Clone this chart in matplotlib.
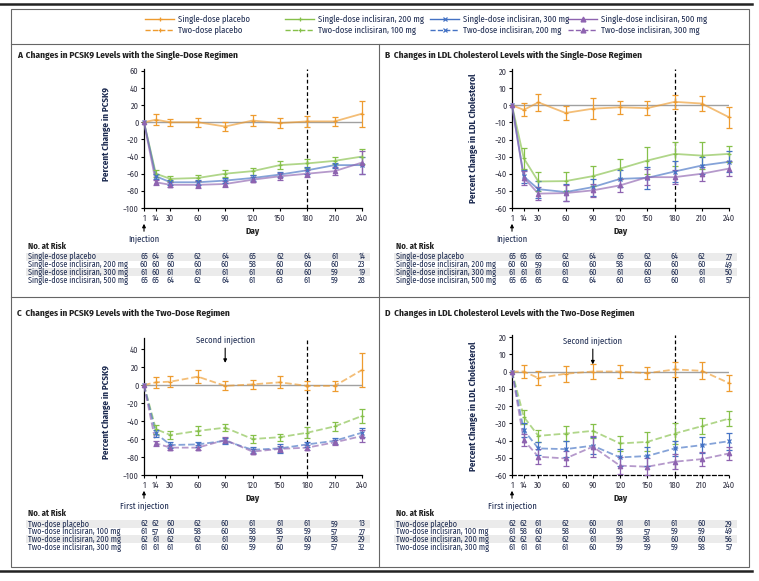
import numpy as np
import matplotlib
matplotlib.use("Agg")
import matplotlib.pyplot as plt
from matplotlib.lines import Line2D
from matplotlib.patches import Rectangle
from matplotlib.transforms import blended_transform_factory

plt.rcParams['font.family'] = ['Fira Sans Condensed', 'DejaVu Sans']

W, H = 759, 581
NAVY = "#1c2a50"
TXT = "#222222"

days = [1, 14, 30, 60, 90, 120, 150, 180, 210, 240]

# A: PCSK9, single dose
a_pbo = [0, 3, 0, 0, -5, 2, -1, 1, 1, 10]
a_pbo_err = [0, 6.5, 4, 5, 5, 6, 6, 6, 5.5, 15]
a_200 = [0, -60, -66, -65, -60, -57, -50, -48, -45, -40]
a_200_err = [0, 4, 3, 3, 4, 4, 5, 5, 4, 9]
a_300 = [0, -63, -70, -70, -68, -65, -61, -56, -50, -50]
a_300_err = [0, 3, 3, 3, 3, 3, 3, 4, 3, 10]
a_500 = [0, -70, -73, -73, -72, -67, -63, -60, -57, -47]
a_500_err = [0, 3, 3, 4, 3, 3, 4, 4, 5, 13]

# B: LDL, single dose
b_pbo = [0, -2.7, 1.7, -4.5, -2, -1.2, -1.7, 2, 1, -7]
b_pbo_err = [0, 3.8, 4.8, 4.3, 6.3, 3.9, 4.2, 4, 4.5, 6]
b_200 = [0, -31, -44.5, -44.3, -41.4, -37, -32.3, -28.4, -29.4, -28.4]
b_200_err = [0, 6, 5.3, 5.6, 5.8, 5.8, 7.7, 7, 8, 4.7]
b_300 = [0, -41.6, -49, -50.7, -47.8, -43, -42.4, -38.7, -35.2, -33]
b_300_err = [0, 4, 5, 5, 5, 5, 6.5, 6, 5, 6]
b_500 = [0, -42.4, -51.6, -51.3, -49.7, -46.8, -42, -42, -40, -37]
b_500_err = [0, 4, 4, 4.5, 4, 4, 4.5, 4, 4, 4.5]

# C: PCSK9, two dose
c_pbo = [0, 3, 3.7, 9.3, -1, 0.7, 3, -1, -1, 16.7]
c_pbo_err = [0, 6, 6, 7, 5, 5, 6.5, 5, 5.5, 18.5]
c_100 = [0, -49, -55.6, -51, -47.4, -60, -58, -53, -46, -34.4]
c_100_err = [0, 5, 4, 5, 4, 4, 4, 6, 5, 8]
c_200 = [0, -53.7, -66.7, -66, -62, -72, -70.4, -66, -62, -53]
c_200_err = [0, 4, 3, 3, 3, 3, 5, 3, 3, 5]
c_300 = [0, -64.8, -69.6, -69.6, -61, -74, -71, -69.6, -63.7, -56.7]
c_300_err = [0, 3, 3, 3, 3, 3, 3, 3, 3, 7]

# D: LDL, two dose
d_pbo = [0, 0, -3.8, -1.3, 0, 0, -1, 1.2, 0.4, -6.7]
d_pbo_err = [0, 3.5, 4, 4.5, 4.5, 4, 3.5, 4.5, 5, 4.5]
d_100 = [0, -26.3, -37.3, -36, -34.4, -41.7, -40.8, -36, -31.7, -27.3]
d_100_err = [0, 4, 3.5, 4.5, 4, 4.5, 5.5, 6, 4.5, 4.5]
d_200 = [0, -34, -44.6, -45, -43, -49.8, -49, -44.6, -42.7, -40.4]
d_200_err = [0, 4, 4, 4.5, 5, 5, 5.5, 4.5, 4.5, 5]
d_300 = [0, -39.8, -49.4, -50.4, -43.6, -54.6, -55.2, -52.3, -50.8, -47.5]
d_300_err = [0, 3.5, 4.5, 4.5, 6, 5, 5, 4.5, 4, 4]

single_labels = ["Single-dose placebo", "Single-dose inclisiran, 200 mg",
                 "Single-dose inclisiran, 300 mg", "Single-dose inclisiran, 500 mg"]
two_labels = ["Two-dose placebo", "Two-dose inclisiran, 100 mg",
              "Two-dose inclisiran, 200 mg", "Two-dose inclisiran, 300 mg"]

risk_a = [[65, 64, 65, 62, 64, 65, 62, 64, 61, 14],
          [60, 60, 60, 60, 60, 58, 60, 60, 60, 23],
          [61, 60, 61, 61, 61, 61, 60, 60, 59, 19],
          [65, 65, 64, 62, 64, 61, 63, 61, 59, 28]]
risk_b = [[65, 65, 65, 62, 64, 65, 62, 64, 62, 27],
          [60, 60, 59, 60, 60, 58, 60, 60, 60, 49],
          [61, 61, 61, 61, 60, 61, 60, 60, 61, 50],
          [65, 65, 65, 62, 64, 60, 63, 60, 61, 57]]
risk_c = [[62, 62, 60, 62, 60, 61, 61, 61, 59, 13],
          [61, 57, 60, 58, 60, 58, 58, 59, 57, 27],
          [62, 61, 62, 62, 61, 59, 57, 60, 58, 29],
          [61, 61, 61, 61, 60, 59, 60, 59, 57, 32]]
risk_d = [[62, 62, 61, 62, 60, 61, 61, 61, 60, 29],
          [61, 58, 60, 58, 60, 58, 57, 59, 59, 49],
          [62, 62, 62, 62, 61, 59, 58, 60, 60, 56],
          [61, 61, 61, 61, 60, 59, 59, 59, 58, 57]]

colors = ["#EE9B2F", "#86C04A", "#4472C4", "#8E63B0"]
markers = ["+", "+", "x", "^"]


def fx(px):
    return px / W


def fy(py):
    return 1 - py / H


fig = plt.figure(figsize=(W / 100, H / 100), dpi=100)

# frame
fig.add_artist(Line2D([fx(0), fx(752)], [fy(4), fy(4)], lw=1.8, color="#222222"))
fig.add_artist(Line2D([fx(0), fx(752)], [fy(571), fy(571)], lw=1.8, color="#222222"))
fig.add_artist(Rectangle((fx(11), fy(567)), fx(749) - fx(11), fy(9) - fy(567),
                         transform=fig.transFigure, fill=False, ec="#666666", lw=0.8))
fig.add_artist(Line2D([fx(11), fx(749)], [fy(44), fy(44)], lw=0.8, color="#666666"))
fig.add_artist(Line2D([fx(11), fx(749)], [fy(297), fy(297)], lw=0.8, color="#666666"))
fig.add_artist(Line2D([fx(379), fx(379)], [fy(44), fy(567)], lw=0.8, color="#666666"))

# legend
leg_line_x = [145, 285, 430, 568]
leg_text_x = [178, 318, 463, 601]
for row, (labels, ls, ly) in enumerate([(single_labels, "-", 19), (two_labels, "--", 30)]):
    for i in range(4):
        x0 = leg_line_x[i]
        fig.add_artist(Line2D([fx(x0), fx(x0 + 29)], [fy(ly), fy(ly)], ls=ls, lw=1.0,
                              color=colors[i]))
        fig.add_artist(Line2D([fx(x0 + 14.5)], [fy(ly)], marker=markers[i], ms=3.5,
                              mew=0.9, color=colors[i]))
        fig.text(fx(leg_text_x[i]), fy(ly), labels[i], fontsize=6.2, color=NAVY, va="center")


def make_axes(left, right, bottom, ylim, ppu):
    h = (ylim[1] - ylim[0]) * ppu
    ax = fig.add_axes([fx(left), fy(bottom), (right - left) / W, h / H])
    ax.set_facecolor("none")
    ax.set_xlim(1, 240)
    ax.set_ylim(*ylim)
    for s in ["top", "right"]:
        ax.spines[s].set_visible(False)
    for s in ["left", "bottom"]:
        ax.spines[s].set_linewidth(0.9)
    ax.set_xticks(days)
    ax.tick_params(length=2.5, width=0.8, labelsize=6, pad=1.5, labelcolor="#333344")
    ax.axhline(0, color="#A0A0A0", lw=1.0, zorder=1)
    ax.axvline(180, color="black", ls=(0, (3, 2)), lw=0.9, zorder=2)
    return ax


def draw_series(ax, y, err, color, marker, ls):
    ax.plot(days, y, ls=ls, color=color, alpha=0.65, lw=1.3, zorder=3, clip_on=False)
    eb = ax.errorbar(days[1:], y[1:], yerr=err[1:], fmt="none", ecolor=color,
                     elinewidth=0.9, capsize=2.2, capthick=0.9, zorder=4)
    for art in list(eb.lines[1]) + list(eb.lines[2]):
        art.set_clip_on(False)
    ax.plot(days, y, ls="none", marker=marker, ms=3.2, mew=0.9, color=color,
            zorder=5, clip_on=False)


def risk_table(ax, labels, rows, label_x, shade_right, header_y, row_ys):
    trans = blended_transform_factory(ax.transData, fig.transFigure)
    fig.text(fx(label_x), fy(header_y), "No. at Risk", fontsize=6.2, fontweight="bold",
             color=TXT, va="center")
    for i, (lab, vals) in enumerate(zip(labels, rows)):
        y = row_ys[i]
        if i % 2 == 0:
            fig.add_artist(Rectangle((fx(label_x - 2), fy(y + 3.9)),
                                     fx(shade_right) - fx(label_x - 2), 7.8 / H,
                                     transform=fig.transFigure, fc="#EBEBEB", ec="none",
                                     zorder=-1))
        fig.text(fx(label_x), fy(y), lab, fontsize=5.9, color=NAVY, va="center")
        for d, v in zip(days, vals):
            ax.text(d, fy(y), str(v), transform=trans, ha="center", va="center",
                    fontsize=5.9, color=NAVY, clip_on=False)


def injection_arrow(ax, label, tip_y, tail_y, text_y):
    trans = blended_transform_factory(ax.transData, fig.transFigure)
    ax.annotate("", xy=(1, fy(tip_y)), xycoords=trans, xytext=(1, fy(tail_y)),
                textcoords=trans, annotation_clip=False,
                arrowprops=dict(arrowstyle="-|>", color="black", lw=0.8, mutation_scale=5))
    ax.text(1, fy(text_y), label, transform=trans, ha="center", va="center",
            fontsize=6.2, color=NAVY, clip_on=False)


panels = [
    dict(letter="A", title="Changes in PCSK9 Levels with the Single-Dose Regimen",
         left=144, right=362, bottom=208, ylim=(-100, 62), ppu=0.8575,
         yticks=range(-100, 61, 20), ylabel="Percent Change in PCSK9",
         series=[(a_pbo, a_pbo_err), (a_200, a_200_err), (a_300, a_300_err), (a_500, a_500_err)],
         ls="-", labels=single_labels, risk=risk_a, title_x=17, title_y=55,
         inj="Injection", ylab_pos=(-0.153, 0.53)),
    dict(letter="B", title="Changes in LDL Cholesterol Levels with the Single-Dose Regimen",
         left=512, right=729, bottom=208, ylim=(-60, 21), ppu=1.7125,
         yticks=range(-60, 21, 10), ylabel="Percent Change in LDL Cholesterol",
         series=[(b_pbo, b_pbo_err), (b_200, b_200_err), (b_300, b_300_err), (b_500, b_500_err)],
         ls="-", labels=single_labels, risk=risk_b, title_x=385, title_y=55,
         inj="Injection", ylab_pos=(-0.157, 0.5)),
    dict(letter="C", title="Changes in PCSK9 Levels with the Two-Dose Regimen",
         left=144, right=362, bottom=475, ylim=(-100, 52), ppu=0.9,
         yticks=range(-100, 41, 20), ylabel="Percent Change in PCSK9",
         series=[(c_pbo, c_pbo_err), (c_100, c_100_err), (c_200, c_200_err), (c_300, c_300_err)],
         ls="--", labels=two_labels, risk=risk_c, title_x=17, title_y=313,
         inj="First injection", ylab_pos=(-0.153, 0.46)),
    dict(letter="D", title="Changes in LDL Cholesterol Levels with the Two-Dose Regimen",
         left=512, right=729, bottom=475, ylim=(-60, 21), ppu=1.725,
         yticks=range(-60, 21, 10), ylabel="Percent Change in LDL Cholesterol",
         series=[(d_pbo, d_pbo_err), (d_100, d_100_err), (d_200, d_200_err), (d_300, d_300_err)],
         ls="--", labels=two_labels, risk=risk_d, title_x=385, title_y=313,
         inj="First injection", ylab_pos=(-0.157, 0.49)),
]

for p in panels:
    ax = make_axes(p["left"], p["right"], p["bottom"], p["ylim"], p["ppu"])
    ax.set_yticks(list(p["yticks"]))
    for (y, e), c, m in zip(p["series"], colors, markers):
        draw_series(ax, y, e, c, m, p["ls"])
    ax.set_ylabel(p["ylabel"], fontsize=6.5, fontweight="bold", color=NAVY)
    ax.yaxis.set_label_coords(*p["ylab_pos"])
    fig.text(fx(p["title_x"]), fy(p["title_y"]), p["letter"] + "  " + p["title"],
             fontsize=6.7, fontweight="bold", color=TXT, va="center")
    b = p["bottom"]
    fig.text(fx((p["left"] + p["right"]) / 2), fy(b + 24), "Day", fontsize=6.5,
             fontweight="bold", color=TXT, ha="center", va="center")
    injection_arrow(ax, p["inj"], b + 13, b + 26, b + 30.5)
    risk_table(ax, p["labels"], p["risk"], p["title_x"] + 11, p["right"] + 8,
               b + 38.5, [b + 48.7, b + 56.5, b + 64.3, b + 72.1])
    if p["letter"] == "C":
        ax.annotate("", xy=(90, 21.5), xytext=(90, 44),
                    arrowprops=dict(arrowstyle="-|>", color="black", lw=0.8, mutation_scale=5))
        ax.text(90, 50, "Second injection", ha="center", va="center", fontsize=6.2, color=NAVY)
    if p["letter"] == "D":
        ax.spines["bottom"].set_linestyle((0, (3, 2)))
        ax.annotate("", xy=(90, 2.5), xytext=(90, 14.6),
                    arrowprops=dict(arrowstyle="-|>", color="black", lw=0.8, mutation_scale=5))
        ax.text(90, 17.9, "Second injection", ha="center", va="center", fontsize=6.2, color=NAVY)

fig.savefig("out.png", dpi=100)
